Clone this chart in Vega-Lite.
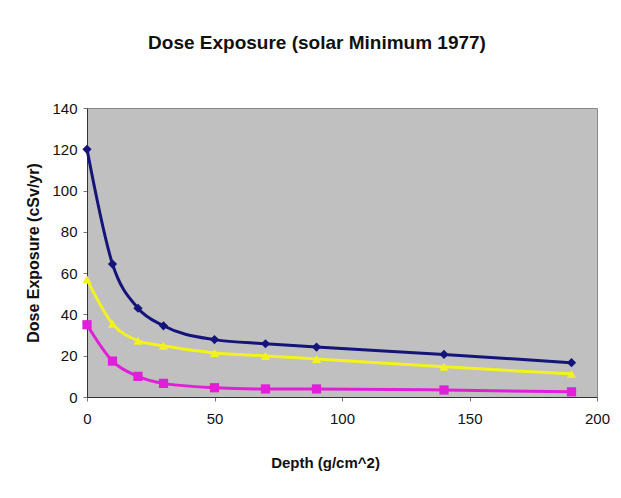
{
  "$schema": "https://vega.github.io/schema/vega-lite/v6.json",
  "width": 510,
  "height": 289,
  "autosize": "none",
  "padding": {"left": 87, "top": 108, "right": 24, "bottom": 101},
  "background": "white",
  "title": {
    "text": "Dose Exposure (solar Minimum 1977)",
    "font": "Liberation Sans",
    "fontSize": 19,
    "fontWeight": "bold",
    "color": "#111",
    "anchor": "middle",
    "dx": -25,
    "offset": 48
  },
  "data": {
    "values": [
      {"depth": 0, "dose": 120, "series": "A"},
      {"depth": 10, "dose": 64.4, "series": "A"},
      {"depth": 20, "dose": 43, "series": "A"},
      {"depth": 30, "dose": 34.5, "series": "A"},
      {"depth": 50, "dose": 27.8, "series": "A"},
      {"depth": 70, "dose": 25.8, "series": "A"},
      {"depth": 90, "dose": 24.2, "series": "A"},
      {"depth": 140, "dose": 20.6, "series": "A"},
      {"depth": 190, "dose": 16.6, "series": "A"},
      {"depth": 0, "dose": 57, "series": "B"},
      {"depth": 10, "dose": 35.5, "series": "B"},
      {"depth": 20, "dose": 27.3, "series": "B"},
      {"depth": 30, "dose": 24.8, "series": "B"},
      {"depth": 50, "dose": 21.3, "series": "B"},
      {"depth": 70, "dose": 19.9, "series": "B"},
      {"depth": 90, "dose": 18.4, "series": "B"},
      {"depth": 140, "dose": 14.6, "series": "B"},
      {"depth": 190, "dose": 11.2, "series": "B"},
      {"depth": 0, "dose": 35, "series": "C"},
      {"depth": 10, "dose": 17.4, "series": "C"},
      {"depth": 20, "dose": 10, "series": "C"},
      {"depth": 30, "dose": 6.6, "series": "C"},
      {"depth": 50, "dose": 4.5, "series": "C"},
      {"depth": 70, "dose": 3.9, "series": "C"},
      {"depth": 90, "dose": 3.9, "series": "C"},
      {"depth": 140, "dose": 3.4, "series": "C"},
      {"depth": 190, "dose": 2.5, "series": "C"}
    ]
  },
  "encoding": {
    "x": {
      "field": "depth",
      "type": "quantitative",
      "scale": {"domain": [0, 200], "nice": false},
      "axis": {
        "values": [0, 50, 100, 150, 200],
        "title": "Depth (g/cm^2)",
        "titleFont": "Liberation Sans",
        "titleFontSize": 15,
        "titleFontWeight": "bold",
        "titleColor": "#111",
        "titleX": 238,
        "titleY": 58,
        "labelFont": "Liberation Sans",
        "labelFontSize": 15,
        "labelColor": "#111",
        "labelPadding": 10,
        "labelFlush": false,
        "labelOverlap": false,
        "grid": false,
        "domainColor": "#333",
        "tickColor": "#777",
        "tickSize": 4
      }
    },
    "y": {
      "field": "dose",
      "type": "quantitative",
      "scale": {"domain": [0, 140], "nice": false},
      "axis": {
        "values": [0, 20, 40, 60, 80, 100, 120, 140],
        "title": "Dose Exposure (cSv/yr)",
        "titleFont": "Liberation Sans",
        "titleFontSize": 16,
        "titleFontWeight": "bold",
        "titleColor": "#111",
        "titleX": -46,
        "titleAngle": 270,
        "labelFont": "Liberation Sans",
        "labelFontSize": 15,
        "labelColor": "#111",
        "labelPadding": 6,
        "labelFlush": false,
        "labelOverlap": false,
        "grid": false,
        "domainColor": "#333",
        "tickColor": "#777",
        "tickSize": 4
      }
    },
    "color": {
      "field": "series",
      "type": "nominal",
      "scale": {"domain": ["A", "B", "C"], "range": ["#14147a", "#f2f21e", "#e020d8"]},
      "legend": null
    }
  },
  "layer": [
    {
      "mark": {"type": "line", "interpolate": "monotone", "strokeWidth": 3}
    },
    {
      "mark": {"type": "point", "filled": true, "size": 85, "opacity": 1},
      "encoding": {
        "shape": {
          "field": "series",
          "type": "nominal",
          "scale": {"domain": ["A", "B", "C"], "range": ["diamond", "triangle-up", "square"]},
          "legend": null
        }
      }
    }
  ],
  "config": {
    "view": {"fill": "#c0c0c0", "stroke": "#888", "strokeWidth": 1},
    "axisY": {"titleLimit": 300}
  }
}
